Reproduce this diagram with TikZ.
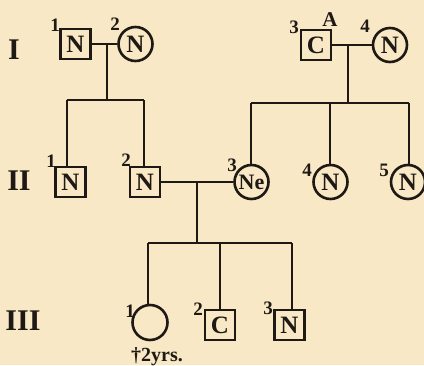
\documentclass[tikz,border=0pt]{standalone}
\usepackage{fontspec}
\setmainfont{Liberation Serif}
\definecolor{paper}{RGB}{249,232,197}
\definecolor{ink}{RGB}{30,25,20}
\begin{document}
\begin{tikzpicture}[x=1pt,y=-1pt,
  male/.style={draw=ink, line width=2.8pt, minimum size=30pt, inner sep=0pt, text=ink,
    font=\fontsize{25}{25}\selectfont\bfseries},
  female/.style={circle, draw=ink, line width=2.6pt, minimum size=34pt, inner sep=0pt, text=ink,
    font=\fontsize{25}{25}\selectfont\bfseries},
  num/.style={inner sep=0pt, text=ink, font=\fontsize{19}{19}\selectfont\bfseries},
  gen/.style={inner sep=0pt, text=ink, font=\fontsize{30}{30}\selectfont\bfseries},
  conn/.style={draw=ink, line width=2pt}]
\fill[paper] (0,0) rectangle (424,365);
\useasboundingbox (0,0) rectangle (424,365);

% generation labels
\node[gen] (gI) at (14,50) {I};
\node[gen] (gII) at (19,181) {II};
\node[gen] (gIII) at (23,321) {III};

% generation I
\node[male] (I1) at (75.5,44) {N};
\node[female] (I2) at (135.5,44) {N};
\node[male] (I3) at (316,45) {C};
\node[female] (I4) at (390,45) {N};
\node[num] (nI1) at (55,25) {1};
\node[num] (nI2) at (115,24) {2};
\node[num] (nI3) at (294,27) {3};
\node[num,font=\fontsize{21}{21}\selectfont\bfseries] (aI3) at (330,20) {A};
\node[num] (nI4) at (365,26) {4};

% generation II
\node[male] (II1) at (70.5,182) {N};
\node[male] (II2) at (145,182) {N};
\node[female,font=\fontsize{22}{22}\selectfont\bfseries] (II3) at (251.5,182) {Ne};
\node[female] (II4) at (330.5,182) {N};
\node[female] (II5) at (408,182) {N};
\node[num] (nII1) at (51,161) {1};
\node[num] (nII2) at (126,160) {2};
\node[num] (nII3) at (232,165) {3};
\node[num] (nII4) at (307,170) {4};
\node[num] (nII5) at (384,170) {5};

% generation III
\node[female,minimum size=35pt] (III1) at (150,322.5) {};
\node[male] (III2) at (220,325) {C};
\node[male] (III3) at (289.5,325) {N};
\node[num] (nIII1) at (130,311) {1};
\node[num] (nIII2) at (198,309) {2};
\node[num] (nIII3) at (268,308) {3};
\node[num,font=\fontsize{20}{20}\selectfont\bfseries] (dIII1) at (157,357) {†2yrs.};

% coordinates
\coordinate (m1) at (107,44);
\coordinate (s1) at (107,100);
\coordinate (b1L) at (67,100);
\coordinate (b1R) at (144,100);
\coordinate (m2) at (348,45);
\coordinate (s2) at (348,103);
\coordinate (b2L) at (251,103);
\coordinate (b2M) at (330,103);
\coordinate (b2R) at (409,103);
\coordinate (m3) at (197,182);
\coordinate (s3) at (197,243);
\coordinate (b3L) at (148,243);
\coordinate (b3M) at (220,243);
\coordinate (b3R) at (292,243);

% connectors
\draw[conn] (I1) -- (I2);
\draw[conn] (m1) -- (s1);
\draw[conn] (b1L) -- (b1R);
\draw[conn] (b1L) -- (b1L |- II1.north);
\draw[conn] (b1R) -- (b1R |- II2.north);

\draw[conn] (I3) -- (I4);
\draw[conn] (m2) -- (s2);
\draw[conn] (b2L) -- (b2R);
\draw[conn] (b2L) -- (b2L |- II3.north);
\draw[conn] (b2M) -- (b2M |- II4.north);
\draw[conn] (b2R) -- (b2R |- II5.north);

\draw[conn] (II2) -- (II3);
\draw[conn] (m3) -- (s3);
\draw[conn] (b3L) -- (b3R);
\draw[conn] (b3L) -- (b3L |- III1.north);
\draw[conn] (b3M) -- (b3M |- III2.north);
\draw[conn] (b3R) -- (b3R |- III3.north);
\end{tikzpicture}
\end{document}
